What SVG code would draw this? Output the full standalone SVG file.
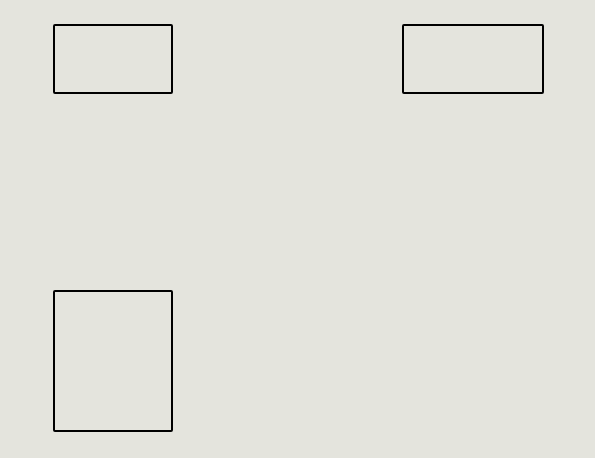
<svg xmlns="http://www.w3.org/2000/svg" width="595" height="458" viewBox="0 0 595 458">
<style>
.box{fill:none;stroke:#000;stroke-width:2;stroke-linejoin:round}
</style>
<rect x="0" y="0" width="595" height="458" fill="#e4e4dd"/>
<g id="node1"><rect class="box" x="54" y="25" width="118" height="68" rx="1"/></g>
<g id="node2"><rect class="box" x="403" y="25" width="140" height="68" rx="1"/></g>
<g id="node3"><rect class="box" x="54" y="291" width="118" height="140" rx="1"/></g>
<g id="connectors"></g>
</svg>
